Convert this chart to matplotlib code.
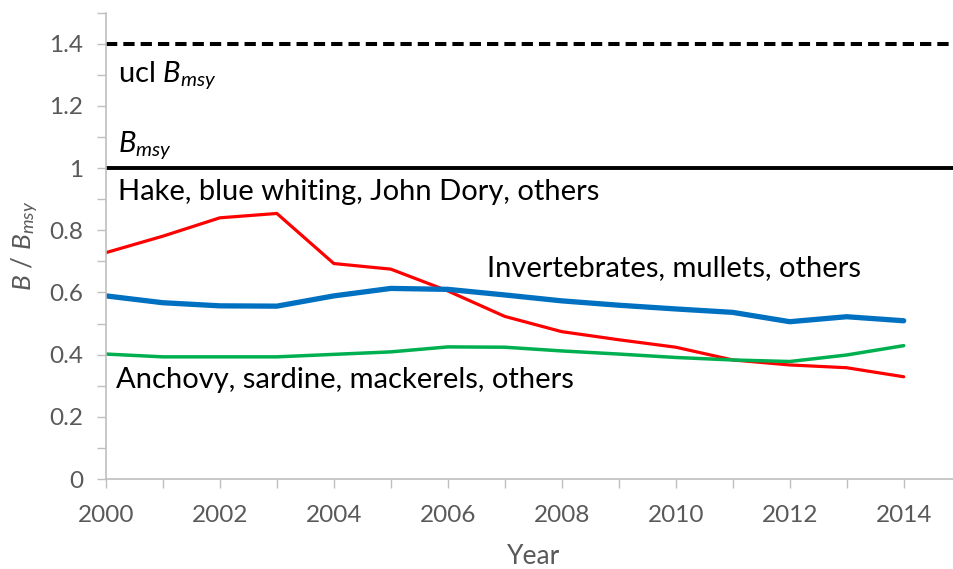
import numpy as np
import matplotlib
matplotlib.use('Agg')
import matplotlib.pyplot as plt
from matplotlib.ticker import MultipleLocator, FuncFormatter

#-------------------------------------------------------
years = np.arange(2000, 2015)
hake = [0.728, 0.781, 0.840, 0.854, 0.693, 0.675, 0.605, 0.523, 0.474, 0.448,
        0.424, 0.383, 0.367, 0.358, 0.329]
invert = [0.589, 0.567, 0.557, 0.556, 0.589, 0.613, 0.610, 0.592, 0.573, 0.559,
          0.547, 0.536, 0.506, 0.522, 0.509]
anchovy = [0.402, 0.393, 0.393, 0.393, 0.401, 0.409, 0.425, 0.424, 0.412, 0.402,
           0.391, 0.383, 0.378, 0.399, 0.429]
b_msy = 1.0
ucl_b_msy = 1.4
#-------------------------------------------------------

plt.rcParams['font.family'] = ['Lato', 'DejaVu Sans']
plt.rcParams['mathtext.fontset'] = 'custom'
plt.rcParams['mathtext.rm'] = 'Lato'
plt.rcParams['mathtext.it'] = 'Lato:italic'

grey = '#595959'
spine = '#BFBFBF'

fig = plt.figure(figsize=(9.54, 5.69), dpi=100)
ax = fig.add_axes([0.111, 0.158, 0.896, 0.820])

ax.axhline(ucl_b_msy, color='black', lw=2.9, ls=(0, (2.8, 1.5)))
ax.axhline(b_msy, color='black', lw=2.8)

ax.plot(years, hake, color='#FF0000', lw=2.3, solid_capstyle='round')
ax.plot(years, anchovy, color='#00B050', lw=2.5, solid_capstyle='round')
ax.plot(years, invert, color='#0070C0', lw=3.8, solid_capstyle='round')

ax.set_xlim(2000, 2015)
ax.set_ylim(0, 1.5)

ax.xaxis.set_major_locator(MultipleLocator(2))
ax.xaxis.set_minor_locator(MultipleLocator(1))
ax.yaxis.set_major_locator(MultipleLocator(0.2))
ax.yaxis.set_minor_locator(MultipleLocator(0.1))
ax.yaxis.set_major_formatter(FuncFormatter(lambda v, p: '%g' % round(v, 2)))

for s in ['top', 'right']:
    ax.spines[s].set_visible(False)
for s in ['left', 'bottom']:
    ax.spines[s].set_color(spine)
    ax.spines[s].set_linewidth(1.2)

ax.tick_params(which='both', length=6.5, width=1.0, color=spine, labelcolor=grey,
               labelsize=17.5)
ax.tick_params(axis='x', which='major', pad=12)
ax.tick_params(axis='y', which='major', pad=10)

ax.set_xlabel('Year', color=grey, fontsize=19, labelpad=13)
ax.set_ylabel(r'$B$ / $B_{msy}$', color=grey, fontsize=19, labelpad=6)

fs = 21
ax.text(2000.21, 1.30, r'ucl $B_{msy}$', fontsize=fs, va='center', ha='left')
ax.text(2000.21, 1.075, r'$B_{msy}$', fontsize=fs, va='center', ha='left')
ax.text(2000.21, 0.923, 'Hake, blue whiting, John Dory, others', fontsize=fs,
        va='center', ha='left')
ax.text(2006.68, 0.678, 'Invertebrates, mullets, others', fontsize=fs,
        va='center', ha='left')
ax.text(2000.17, 0.318, 'Anchovy, sardine, mackerels, others', fontsize=fs,
        va='center', ha='left')

fig.savefig('out.png', dpi=100)
